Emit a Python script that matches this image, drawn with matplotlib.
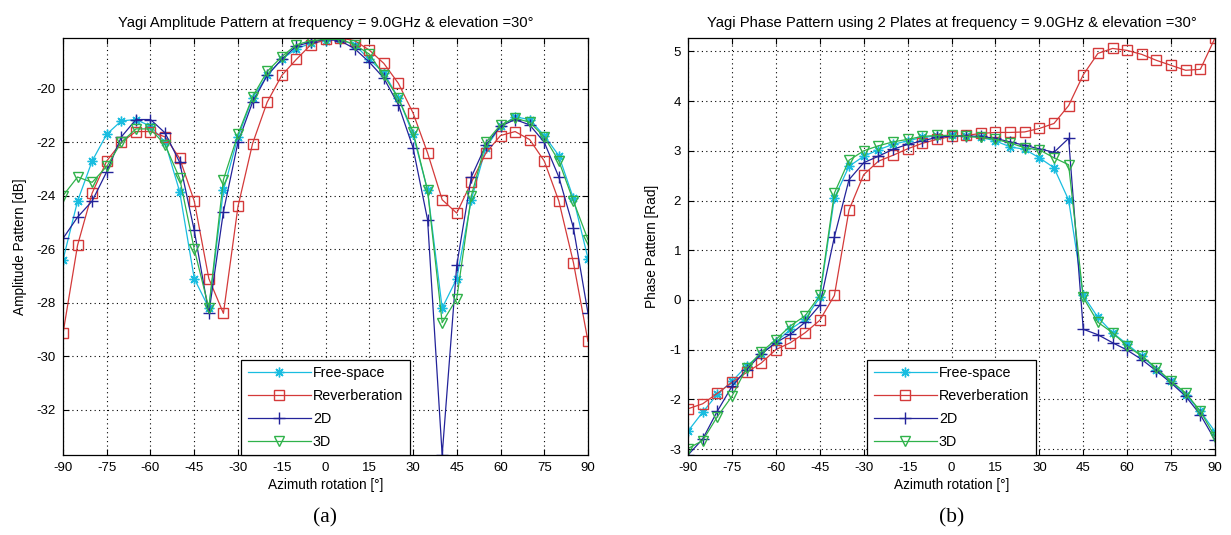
import numpy as np
import matplotlib
matplotlib.use("Agg")
import matplotlib.pyplot as plt

plt.rcParams["font.family"] = ["Liberation Sans", "DejaVu Sans"]
plt.rcParams["axes.unicode_minus"] = False

# 方位角 -90..90, 每 5 度
azimuth = np.arange(-90, 91, 5)

# (a) 振幅 [dB]
amp_free = [-26.4, -24.2, -22.7, -21.7, -21.2, -21.15, -21.4, -22.0, -23.85, -27.1,
            -28.2, -23.8, -21.8, -20.35, -19.5, -18.9, -18.5, -18.3, -18.2,
            -18.15, -18.35, -18.9, -19.4, -20.35, -21.7, -23.8, -28.2, -27.1,
            -24.15, -22.2, -21.4, -21.05, -21.15, -21.75, -22.5, -24.1, -26.35]
amp_reverb = [-29.15, -25.85, -23.9, -22.7, -22.0, -21.6, -21.6, -21.8, -22.6, -24.2,
              -27.1, -28.4, -24.4, -22.05, -20.5, -19.5, -18.9, -18.35, -18.15,
              -18.1, -18.2, -18.55, -19.05, -19.8, -20.9, -22.4, -24.15, -24.65,
              -23.5, -22.4, -21.75, -21.6, -21.9, -22.7, -24.2, -26.5, -29.45]
amp_2d = [-25.6, -24.8, -24.2, -23.1, -21.8, -21.15, -21.15, -21.65, -22.75, -25.3,
          -28.4, -24.6, -22.0, -20.5, -19.5, -18.9, -18.4, -18.25, -18.15,
          -18.2, -18.5, -19.0, -19.6, -20.6, -22.2, -24.9, -33.7, -26.6,
          -23.3, -22.1, -21.4, -21.15, -21.35, -22.0, -23.3, -25.2, -28.4]
amp_3d = [-24.0, -23.3, -23.5, -22.9, -22.0, -21.5, -21.5, -22.1, -23.35, -26.0,
          -28.2, -23.4, -21.7, -20.3, -19.35, -18.8, -18.35, -18.2, -18.15,
          -18.15, -18.35, -18.7, -19.5, -20.35, -21.6, -23.8, -28.75, -27.85,
          -24.0, -22.0, -21.35, -21.1, -21.25, -21.8, -22.7, -24.2, -25.65]

# (b) 相位 [Rad]
ph_free = [-2.64, -2.26, -1.9, -1.64, -1.33, -1.09, -0.85, -0.59, -0.39, 0.05,
           2.05, 2.69, 2.89, 3.02, 3.13, 3.2, 3.27, 3.3, 3.31,
           3.3, 3.27, 3.2, 3.08, 3.03, 2.86, 2.66, 2.01, 0.09,
           -0.35, -0.66, -0.89, -1.13, -1.4, -1.64, -1.91, -2.24, -2.65]
ph_reverb = [-2.19, -2.09, -1.88, -1.66, -1.46, -1.27, -1.0, -0.86, -0.66, -0.41,
             0.09, 1.81, 2.52, 2.79, 2.91, 3.04, 3.15, 3.23, 3.29,
             3.31, 3.35, 3.37, 3.37, 3.38, 3.45, 3.55, 3.91, 4.53,
             4.96, 5.06, 5.02, 4.94, 4.82, 4.72, 4.62, 4.64, 5.27]
ph_2d = [-3.12, -2.8, -2.24, -1.74, -1.4, -1.09, -0.86, -0.69, -0.45, -0.11,
         1.27, 2.42, 2.76, 2.89, 3.03, 3.13, 3.2, 3.27, 3.3,
         3.3, 3.29, 3.25, 3.18, 3.11, 3.04, 2.97, 3.25, -0.59,
         -0.7, -0.86, -1.01, -1.2, -1.43, -1.67, -1.94, -2.31, -2.82]
ph_3d = [-2.99, -2.83, -2.35, -1.94, -1.37, -1.05, -0.8, -0.52, -0.32, 0.09,
         2.15, 2.81, 3.0, 3.1, 3.18, 3.23, 3.29, 3.31, 3.31,
         3.29, 3.27, 3.23, 3.16, 3.06, 3.02, 2.86, 2.72, 0.05,
         -0.45, -0.66, -0.93, -1.13, -1.37, -1.64, -1.87, -2.24, -2.75]

labels = ["Free-space", "Reverberation", "2D", "3D"]
colors = ["#19bde0", "#d43a3a", "#23239a", "#2fb24a"]
styles = [dict(marker=(8, 2, 0), ms=7, mew=1.0),
          dict(marker="s", ms=7.5, mfc="none", mew=1.0),
          dict(marker="+", ms=9, mew=1.0),
          dict(marker="v", ms=7.5, mfc="none", mew=1.0)]

fig = plt.figure(figsize=(12.31, 5.35), dpi=100)
ax1 = fig.add_axes([63 / 1231, 1 - 455 / 535, 525 / 1231, 417 / 535])
ax2 = fig.add_axes([688 / 1231, 1 - 455 / 535, 527 / 1231, 417 / 535])


def draw(ax, series, yticks, title, ylabel, tag):
    for y, lab, c, st in zip(series, labels, colors, styles):
        ax.plot(azimuth, y, color=c, lw=0.9, label=lab, **st)
    allv = np.concatenate([np.asarray(s) for s in series])
    ax.set_xlim(-90, 90)
    ax.set_ylim(allv.min(), allv.max())
    ax.set_xticks(np.arange(-90, 91, 15))
    ax.set_yticks(yticks)
    ax.grid(True, color="black", linestyle=(0, (1, 3)), linewidth=0.8)
    ax.tick_params(direction="in", top=True, right=True, labelsize=9.5,
                   length=4, pad=5)
    for sp in ax.spines.values():
        sp.set_linewidth(0.9)
    ax.set_title(title, fontsize=10.6, pad=8)
    ax.set_xlabel("Azimuth rotation [°]", fontsize=9.8, labelpad=3)
    ax.set_ylabel(ylabel, fontsize=9.8, labelpad=7)
    leg = ax.legend(loc="lower center", bbox_to_anchor=(0.5, 0.0),
                    borderaxespad=0, fancybox=False, edgecolor="black",
                    fontsize=10.3, handlelength=4.4, labelspacing=0.62,
                    framealpha=1, borderpad=0.45, handletextpad=0.15)
    leg.get_frame().set_linewidth(0.9)
    ax.text(0.5, -0.128, tag, transform=ax.transAxes, ha="center", va="top",
            fontsize=15.5, family="Liberation Serif")


draw(ax1, [amp_free, amp_reverb, amp_2d, amp_3d], np.arange(-32, -19, 2),
     "Yagi Amplitude Pattern at frequency = 9.0GHz & elevation =30°",
     "Amplitude Pattern [dB]", "(a)")
draw(ax2, [ph_free, ph_reverb, ph_2d, ph_3d], np.arange(-3, 6, 1),
     "Yagi Phase Pattern using 2 Plates at frequency = 9.0GHz & elevation =30°",
     "Phase Pattern [Rad]", "(b)")

fig.savefig("out.png", dpi=100, facecolor="white")
